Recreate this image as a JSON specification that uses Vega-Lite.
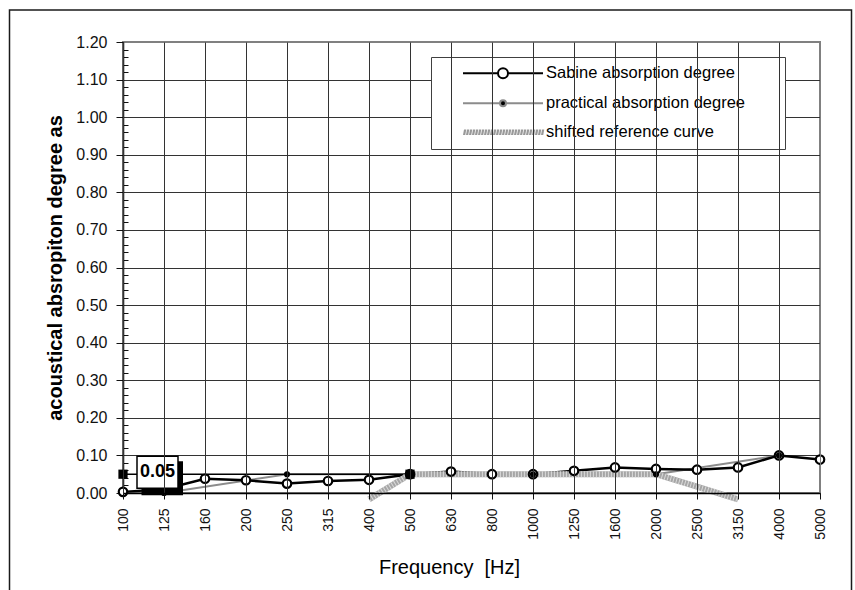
{
  "$schema": "https://vega.github.io/schema/vega-lite/v6.json",
  "width": 697,
  "height": 451,
  "autosize": {"type": "none"},
  "padding": {"left": 123, "top": 42, "right": 35, "bottom": 97},
  "background": "white",
  "config": {"view": {"stroke": "#808080", "strokeWidth": 2}},
  "datasets": {
    "sabine": [
      {"series": "Sabine absorption degree", "f": "100", "a": 0.003},
      {"series": "Sabine absorption degree", "f": "125", "a": 0.01},
      {"series": "Sabine absorption degree", "f": "160", "a": 0.038},
      {"series": "Sabine absorption degree", "f": "200", "a": 0.034},
      {"series": "Sabine absorption degree", "f": "250", "a": 0.025},
      {"series": "Sabine absorption degree", "f": "315", "a": 0.032},
      {"series": "Sabine absorption degree", "f": "400", "a": 0.035},
      {"series": "Sabine absorption degree", "f": "500", "a": 0.05},
      {"series": "Sabine absorption degree", "f": "630", "a": 0.057},
      {"series": "Sabine absorption degree", "f": "800", "a": 0.05},
      {"series": "Sabine absorption degree", "f": "1000", "a": 0.05},
      {"series": "Sabine absorption degree", "f": "1250", "a": 0.059},
      {"series": "Sabine absorption degree", "f": "1600", "a": 0.068},
      {"series": "Sabine absorption degree", "f": "2000", "a": 0.064},
      {"series": "Sabine absorption degree", "f": "2500", "a": 0.062},
      {"series": "Sabine absorption degree", "f": "3150", "a": 0.068},
      {"series": "Sabine absorption degree", "f": "4000", "a": 0.1},
      {"series": "Sabine absorption degree", "f": "5000", "a": 0.089}
    ],
    "practical": [
      {"series": "practical absorption degree", "f": "125", "a": 0.0},
      {"series": "practical absorption degree", "f": "250", "a": 0.05},
      {"series": "practical absorption degree", "f": "500", "a": 0.05},
      {"series": "practical absorption degree", "f": "1000", "a": 0.05},
      {"series": "practical absorption degree", "f": "2000", "a": 0.05},
      {"series": "practical absorption degree", "f": "4000", "a": 0.1}
    ],
    "shifted": [
      {"series": "shifted reference curve", "f": "400", "a": -0.017},
      {"series": "shifted reference curve", "f": "500", "a": 0.05},
      {"series": "shifted reference curve", "f": "630", "a": 0.05},
      {"series": "shifted reference curve", "f": "800", "a": 0.05},
      {"series": "shifted reference curve", "f": "1000", "a": 0.05},
      {"series": "shifted reference curve", "f": "1250", "a": 0.05},
      {"series": "shifted reference curve", "f": "1600", "a": 0.05},
      {"series": "shifted reference curve", "f": "2000", "a": 0.05},
      {"series": "shifted reference curve", "f": "2500", "a": 0.017},
      {"series": "shifted reference curve", "f": "3150", "a": -0.017}
    ],
    "rating": [
      {"f": "100", "a": 0.05},
      {"f": "500", "a": 0.05}
    ]
  },
  "encoding": {
    "x": {
      "field": "f", "type": "nominal", "sort": null,
      "scale": {"type": "point", "padding": 0, "domain": ["100","125","160","200","250","315","400","500","630","800","1000","1250","1600","2000","2500","3150","4000","5000"]},
      "axis": {
        "title": "Frequency\u00a0 [Hz]",
        "labelAngle": 270, "labelAlign": "right", "labelBaseline": "middle",
        "labelFont": "Liberation Sans", "labelFontSize": 14, "labelColor": "#111", "labelPadding": 9,
        "tickSize": 6, "tickColor": "#111", "tickWidth": 1,
        "domainColor": "black", "domainWidth": 1.5,
        "grid": true, "gridWidth": 1,
        "gridColor": {"condition": {"test": "datum.value === '5000'", "value": "#808080"}, "value": "#333333"},
        "titleFont": "Liberation Sans", "titleFontSize": 20, "titleFontWeight": "normal", "titleColor": "black",
        "titleX": 326, "titleY": 80, "titleBaseline": "alphabetic", "titleAlign": "center"
      }
    },
    "y": {
      "field": "a", "type": "quantitative",
      "scale": {"domain": [0, 1.2], "nice": false, "zero": false},
      "axis": {
        "title": "acoustical absropiton degree as",
        "values": [0,0.02,0.04,0.06,0.08,0.1,0.12,0.14,0.16,0.18,0.2,0.22,0.24,0.26,0.28,0.3,0.32,0.34,0.36,0.38,0.4,0.42,0.44,0.46,0.48,0.5,0.52,0.54,0.56,0.58,0.6,0.62,0.64,0.66,0.68,0.7,0.72,0.74,0.76,0.78,0.8,0.82,0.84,0.86,0.88,0.9,0.92,0.94,0.96,0.98,1,1.02,1.04,1.06,1.08,1.1,1.12,1.14,1.16,1.18,1.2],
        "labelExpr": "round(datum.value*100) % 10 === 0 ? format(datum.value, '.2f') : ''",
        "labelFont": "Liberation Sans", "labelFontSize": 16, "labelColor": "#111", "labelPadding": 9,
        "tickSize": {"condition": {"test": "round(datum.value*100) % 10 === 0", "value": 7}, "value": -5},
        "tickColor": "#111", "tickWidth": 1,
        "domainColor": "black", "domainWidth": 1.5,
        "grid": true, "gridWidth": 1,
        "gridOpacity": {"condition": {"test": "round(datum.value*100) % 10 === 0", "value": 1}, "value": 0},
        "gridColor": {"condition": {"test": "datum.value > 1.19", "value": "#808080"}, "value": "#333333"},
        "titleFont": "Liberation Sans", "titleFontSize": 20, "titleFontWeight": "bold", "titleColor": "black",
        "titleAngle": 270, "titleX": -61.5, "titleY": 225.5, "titleAlign": "center", "titleBaseline": "alphabetic"
      }
    }
  },
  "layer": [
    {
      "data": {"name": "rating"},
      "transform": [{"filter": "datum.f === '100'"}],
      "mark": {"type": "rect", "fill": "transparent", "stroke": "#1a1a1a", "strokeWidth": 1.5, "xOffset": -113.5, "x2Offset": 31.5, "yOffset": -32, "y2Offset": 120},
      "encoding": {
        "x2": {"datum": "5000"},
        "y": {"datum": 1.2, "type": "quantitative"},
        "y2": {"datum": 0}
      }
    },
    {
      "data": {"name": "practical"},
      "mark": {"type": "line", "strokeWidth": 2},
      "encoding": {
        "order": {"value": null},
        "color": {
          "field": "series", "type": "nominal",
          "scale": {"domain": ["Sabine absorption degree", "practical absorption degree", "shifted reference curve"], "range": ["black", "#8c8c8c", "#a6a6a6"]},
          "legend": {
            "title": null, "orient": "none", "legendX": 308, "legendY": 15, "direction": "vertical", "columns": 1,
            "padding": 8, "rowPadding": 12, "symbolSize": 100, "symbolStrokeWidth": 2,
            "labelFont": "Liberation Sans", "labelFontSize": 16.5, "labelColor": "black", "labelOffset": 90.5, "labelLimit": 0,
            "strokeColor": "#404040", "fillColor": "white",
            "encode": {
              "symbols": {
                "update": {
                  "shape": {"signal": "datum.value === 'Sabine absorption degree' ? 'M3.15,0H10.15M12.15,0H19.15M10.15,0A1,1,0,1,1,12.15,0A1,1,0,1,1,10.15,0M65,0' : datum.value === 'practical absorption degree' ? 'M3.15,0H10.55M11.75,0H19.15M10.55,0A0.6,0.6,0,1,1,11.75,0A0.6,0.6,0,1,1,10.55,0M65,0' : 'M3.15,0.55h0.45l0.2,-1.1h-0.45zM3.75,0.55h0.45l0.2,-1.1h-0.45zM4.35,0.55h0.45l0.2,-1.1h-0.45zM4.95,0.55h0.45l0.2,-1.1h-0.45zM5.55,0.55h0.45l0.2,-1.1h-0.45zM6.15,0.55h0.45l0.2,-1.1h-0.45zM6.75,0.55h0.45l0.2,-1.1h-0.45zM7.35,0.55h0.45l0.2,-1.1h-0.45zM7.95,0.55h0.45l0.2,-1.1h-0.45zM8.55,0.55h0.45l0.2,-1.1h-0.45zM9.15,0.55h0.45l0.2,-1.1h-0.45zM9.75,0.55h0.45l0.2,-1.1h-0.45zM10.35,0.55h0.45l0.2,-1.1h-0.45zM10.95,0.55h0.45l0.2,-1.1h-0.45zM11.55,0.55h0.45l0.2,-1.1h-0.45zM12.15,0.55h0.45l0.2,-1.1h-0.45zM12.75,0.55h0.45l0.2,-1.1h-0.45zM13.35,0.55h0.45l0.2,-1.1h-0.45zM13.95,0.55h0.45l0.2,-1.1h-0.45zM14.55,0.55h0.45l0.2,-1.1h-0.45zM15.15,0.55h0.45l0.2,-1.1h-0.45zM15.75,0.55h0.45l0.2,-1.1h-0.45zM16.35,0.55h0.45l0.2,-1.1h-0.45zM16.95,0.55h0.45l0.2,-1.1h-0.45zM17.55,0.55h0.45l0.2,-1.1h-0.45zM18.15,0.55h0.45l0.2,-1.1h-0.45zM18.75,0.55h0.45l0.2,-1.1h-0.45zM65,0'"},
                  "fill": {"signal": "datum.value === 'Sabine absorption degree' ? 'white' : datum.value === 'practical absorption degree' ? 'black' : '#999999'"},
                  "stroke": {"signal": "datum.value === 'Sabine absorption degree' ? 'black' : datum.value === 'practical absorption degree' ? '#7d7d7d' : '#999999'"},
                  "strokeOpacity": {"signal": "datum.value === 'shifted reference curve' ? 0 : 1"},
                  "fillOpacity": {"value": 1},
                  "opacity": {"value": 1}
                }
              }
            }
          }
        }
      }
    },
    {
      "data": {"name": "sabine"},
      "mark": {"type": "line", "strokeWidth": 2.5},
      "encoding": {
        "order": {"value": null},
        "color": {"field": "series", "type": "nominal"}
      }
    },
    {
      "data": {"name": "rating"},
      "mark": {"type": "line", "strokeWidth": 1.5, "color": "black"},
      "encoding": {"order": {"value": null}}
    },
    {
      "data": {"name": "shifted"},
      "mark": {"type": "line", "strokeWidth": 6, "strokeCap": "butt"},
      "encoding": {
        "order": {"value": null},
        "color": {"field": "series", "type": "nominal"}
      }
    },
    {
      "data": {"name": "shifted"},
      "mark": {"type": "line", "strokeWidth": 6, "strokeCap": "butt", "color": "#dadada", "strokeDash": [1, 2]},
      "encoding": {"order": {"value": null}}
    },
    {
      "data": {"name": "sabine"},
      "mark": {"type": "point", "filled": false, "fill": "white", "stroke": "black", "strokeWidth": 2.2, "size": 72, "opacity": 1, "fillOpacity": 1},
      "encoding": {}
    },
    {
      "data": {"name": "practical"},
      "mark": {"type": "point", "filled": true, "color": "black", "size": 38, "opacity": 1},
      "encoding": {}
    },
    {
      "data": {"name": "rating"},
      "mark": {"type": "point", "shape": "square", "filled": true, "color": "black", "size": 85, "opacity": 1},
      "encoding": {}
    },
    {
      "data": {"name": "rating"},
      "transform": [{"filter": "datum.f === '100'"}],
      "mark": {"type": "rect", "color": "black", "xOffset": 18.5, "x2Offset": 19, "yOffset": -13, "y2Offset": 21},
      "encoding": {"x2": {"datum": "125"}, "y2": {"field": "a"}}
    },
    {
      "data": {"name": "rating"},
      "transform": [{"filter": "datum.f === '100'"}],
      "mark": {"type": "rect", "fill": "white", "stroke": "black", "strokeWidth": 1.5, "xOffset": 14, "x2Offset": 14, "yOffset": -18, "y2Offset": 14},
      "encoding": {"x2": {"datum": "125"}, "y2": {"field": "a"}}
    },
    {
      "data": {"name": "rating"},
      "transform": [{"filter": "datum.f === '100'"}],
      "mark": {"type": "text", "font": "Liberation Sans", "fontSize": 18, "fontWeight": "bold", "color": "black", "align": "center", "baseline": "middle", "dx": 34.5, "dy": -2.5},
      "encoding": {"text": {"field": "a", "type": "quantitative", "format": ".2f"}}
    }
  ]
}
